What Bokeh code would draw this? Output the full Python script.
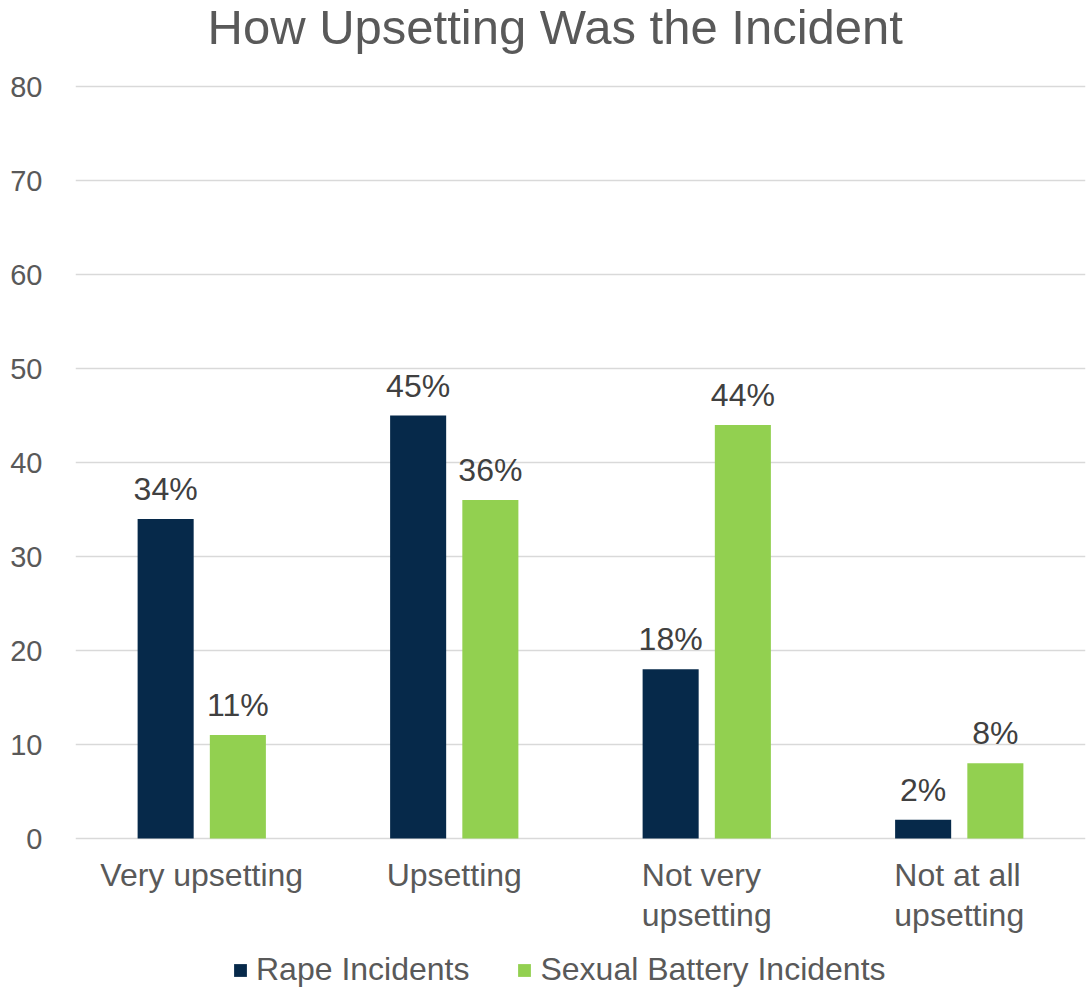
from bokeh.plotting import figure
from bokeh.models import ColumnDataSource, LabelSet, Legend, LegendItem, Range1d, FactorRange, Label
from bokeh.transform import dodge
from bokeh.core.properties import value
from bokeh.embed import file_html
from bokeh.resources import INLINE

categories = ["Very upsetting", "Upsetting", "Not very upsetting", "Not at all upsetting"]
category_labels = ["Very upsetting", "Upsetting", "Not very\nupsetting", "Not at all\nupsetting"]
rape = [34, 45, 18, 2]
battery = [11, 36, 44, 8]
rape_labels = ["34%", "45%", "18%", "2%"]
battery_labels = ["11%", "36%", "44%", "8%"]
y_ticks = [0, 10, 20, 30, 40, 50, 60, 70, 80]

FONT = "Liberation Sans"
GREY = "#595959"
NAVY = "#06294A"
GREEN = "#92D050"

# layout: 9.4 px per unit, value 0 at 838 px from top, frame spans 0..990 px
PX = 9.4
Y_END = 838 / PX
Y_START = -(990 - 838) / PX

src = ColumnDataSource(dict(cat=categories, catlab=category_labels, rape=rape, battery=battery,
                            rl=rape_labels, bl=battery_labels,
                            laby=[-(856 - 838) / PX] * len(categories)))

p = figure(width=1090, height=994, x_range=FactorRange(*categories, range_padding=0),
           y_range=Range1d(Y_START, Y_END), output_backend="svg", toolbar_location=None,
           min_border_left=75, min_border_right=5, min_border_top=0, min_border_bottom=4)
p.outline_line_color = None
p.xaxis.visible = False

r1 = p.vbar(x=dodge("cat", -0.143, range=p.x_range), top="rape", width=0.222, source=src,
            fill_color=NAVY, line_color=None)
r2 = p.vbar(x=dodge("cat", 0.143, range=p.x_range), top="battery", width=0.222, source=src,
            fill_color=GREEN, line_color=None)

for col, lab, off in (("rape", "rl", -0.143), ("battery", "bl", 0.143)):
    ls = LabelSet(x=dodge("cat", off, range=p.x_range), y=col, text=lab, source=src,
                  text_align="center", text_baseline="alphabetic", y_offset=19,
                  text_font=value(FONT), text_font_size="32px", text_color="#404040")
    p.add_layout(ls)

cl = LabelSet(x="cat", y="laby", text="catlab", source=src, text_align="center",
              text_baseline="top", text_font=value(FONT), text_font_size="32px",
              text_color=GREY, text_line_height=1.12)
p.add_layout(cl)

title = Label(x=1.9, y=(838 - 26) / PX, text="How Upsetting Was the Incident",
              text_align="center", text_baseline="alphabetic", text_font=FONT,
              text_font_size="49px", text_color=GREY)
p.add_layout(title)

p.yaxis.ticker = y_ticks
p.yaxis.axis_line_color = None
p.yaxis.major_tick_line_color = None
p.yaxis.minor_tick_line_color = None
p.yaxis.major_label_text_font = FONT
p.yaxis.major_label_text_font_size = "29px"
p.yaxis.major_label_text_color = GREY
p.yaxis.major_label_standoff = 27

p.xgrid.grid_line_color = None
p.ygrid.ticker = y_ticks
p.ygrid.grid_line_color = "#D9D9D9"
p.ygrid.grid_line_width = 1.5

legend = Legend(items=[LegendItem(label="Rape Incidents", renderers=[r1]),
                       LegendItem(label="Sexual Battery Incidents", renderers=[r2])],
                orientation="horizontal", location=(157, 2))
legend.label_text_font = FONT
legend.label_text_font_size = "32px"
legend.label_text_color = GREY
legend.glyph_width = 16
legend.glyph_height = 16
legend.spacing = 47
legend.label_standoff = 8
legend.border_line_color = None
legend.background_fill_alpha = 0
legend.padding = 0
legend.margin = 0
p.add_layout(legend, "center")

open("out.html", "w").write(file_html(p, INLINE))
